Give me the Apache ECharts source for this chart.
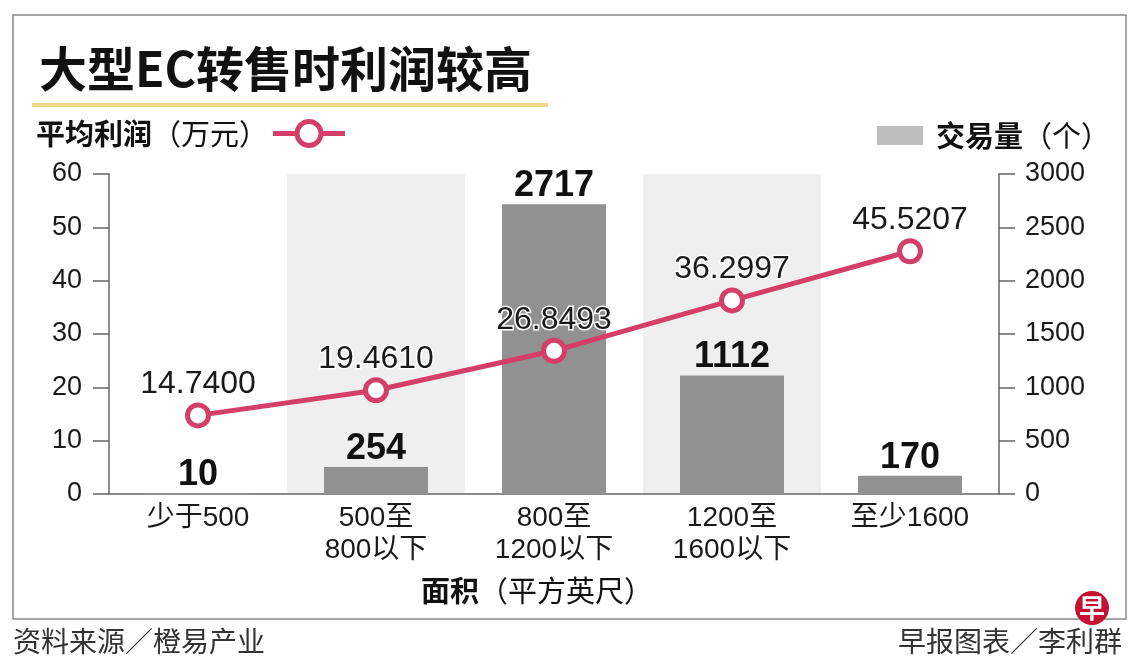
<!doctype html>
<html>
<head>
<meta charset="UTF-8">
<title>大型EC转售时利润较高</title>
<script src="https://cdn.jsdelivr.net/npm/echarts@6/dist/echarts.min.js"></script>
<style>
  html, body { margin: 0; padding: 0; background: #fff; }
  #main { width: 1140px; height: 665px; }
</style>
</head>
<body>
<div id="main"></div>
<script>
// 面积分组（平方英尺）
var categories = ['少于500', '500至\n800以下', '800至\n1200以下', '1200至\n1600以下', '至少1600'];
// 平均利润（万元）
var profit = [14.7400, 19.4610, 26.8493, 36.2997, 45.5207];
// 交易量（个）
var volume = [10, 254, 2717, 1112, 170];

var FONT = "'Liberation Sans', 'Noto Sans CJK SC', sans-serif";
var CJK = "'Noto Sans CJK SC', sans-serif";
var RED = '#d43f69';

var myChart = echarts.init(document.getElementById('main'));

var option = {
    backgroundColor: '#fff',
    textStyle: { fontFamily: FONT },
    title: {
        text: '大型EC转售时利润较高',
        left: 34,
        top: 40,
        textStyle: { fontFamily: CJK, fontSize: 48, fontWeight: 'bold', color: '#111' }
    },
    legend: [{
        data: ['平均利润'],
        left: 36,
        top: 119,
        padding: 0,
        align: 'right',
        itemWidth: 72,
        itemHeight: 30,
        lineStyle: { width: 5 },
        itemStyle: { borderWidth: 5 },
        formatter: function (n) { return '{b|' + n + '}{r|（万元）}'; },
        textStyle: {
            rich: {
                b: { fontFamily: CJK, fontSize: 29, fontWeight: 'bold', color: '#111' },
                r: { fontFamily: CJK, fontSize: 29, color: '#111' }
            }
        }
    }, {
        data: [{ name: '交易量', icon: 'rect' }],
        right: 30,
        top: 121,
        padding: 0,
        itemWidth: 46,
        itemHeight: 19,
        itemGap: 0,
        itemStyle: { color: '#bdbdbd' },
        formatter: function (n) { return '{b|' + n + '}{r|（个）}'; },
        textStyle: {
            padding: [0, 0, 0, 8],
            rich: {
                b: { fontFamily: CJK, fontSize: 29, fontWeight: 'bold', color: '#111' },
                r: { fontFamily: CJK, fontSize: 29, color: '#111' }
            }
        }
    }],
    grid: { left: 109, right: 141, top: 174, bottom: 171 },
    xAxis: {
        type: 'category',
        data: categories,
        name: '{b|面积}{r|（平方英尺）}',
        nameLocation: 'middle',
        nameGap: 82,
        nameTextStyle: {
            padding: [0, 34, 0, 0],
            rich: {
                b: { fontFamily: CJK, fontSize: 29, fontWeight: 'bold', color: '#111' },
                r: { fontFamily: CJK, fontSize: 29, color: '#111' }
            }
        },
        axisLine: { lineStyle: { color: '#666', width: 1.5 } },
        axisTick: { show: false },
        axisLabel: { fontSize: 28, color: '#1a1a1a', lineHeight: 32, margin: 8 },
        splitArea: { show: true, areaStyle: { color: ['rgba(0,0,0,0)', '#efefef'] } }
    },
    yAxis: [{
        type: 'value',
        min: 0, max: 60, interval: 10,
        position: 'left',
        axisLine: { show: true, lineStyle: { color: '#666', width: 1.5 } },
        axisTick: { show: true, length: 16, lineStyle: { color: '#666', width: 1.5 } },
        axisLabel: { fontSize: 27, color: '#1a1a1a', margin: 27 },
        splitLine: { show: false }
    }, {
        type: 'value',
        min: 0, max: 3000, interval: 500,
        position: 'right',
        axisLine: { show: true, lineStyle: { color: '#666', width: 1.5 } },
        axisTick: { show: true, length: 16, lineStyle: { color: '#666', width: 1.5 } },
        axisLabel: {
            fontSize: 27, color: '#1a1a1a', margin: 26,
            formatter: function (v) { return String(v); }
        },
        splitLine: { show: false }
    }],
    series: [{
        name: '交易量',
        type: 'bar',
        yAxisIndex: 1,
        data: volume,
        barWidth: 104,
        itemStyle: { color: '#919191' },
        label: {
            show: true,
            position: 'top',
            distance: 0,
            fontSize: 36,
            fontWeight: 'bold',
            color: '#111'
        },
        z: 2
    }, {
        name: '平均利润',
        type: 'line',
        yAxisIndex: 0,
        data: profit,
        symbol: 'circle',
        symbolSize: 21,
        lineStyle: { color: RED, width: 5 },
        itemStyle: { color: '#fff', borderColor: RED, borderWidth: 5 },
        label: {
            show: true,
            position: 'top',
            distance: 2,
            fontSize: 32,
            color: '#1a1a1a',
            textBorderColor: '#fff',
            textBorderWidth: 3,
            formatter: function (p) { return p.value.toFixed(4); }
        },
        z: 5
    }],
    graphic: [{
        type: 'rect',
        shape: { x: 13, y: 15, width: 1113, height: 604 },
        style: { fill: null, stroke: '#8a8a8a', lineWidth: 1.5 },
        z: -1
    }, {
        type: 'rect',
        shape: { x: 32, y: 103, width: 516, height: 4 },
        style: { fill: '#f0d78c' }
    }, {
        type: 'text',
        left: 13,
        top: 627,
        style: { text: '资料来源／橙易产业', fontFamily: CJK, fontSize: 28, fill: '#333' }
    }, {
        type: 'text',
        right: 18,
        top: 627,
        style: { text: '早报图表／李利群', fontFamily: CJK, fontSize: 28, fill: '#333' }
    }, {
        type: 'circle',
        shape: { cx: 1092, cy: 608, r: 17 },
        style: { fill: '#c41235' },
        z: 10
    }, {
        type: 'text',
        x: 1092,
        y: 608,
        style: {
            text: '早', fontFamily: CJK, fontSize: 26, fontWeight: 'bold', fill: '#fff',
            align: 'center', verticalAlign: 'middle'
        },
        z: 11
    }]
};

myChart.setOption(option);
</script>
</body>
</html>
